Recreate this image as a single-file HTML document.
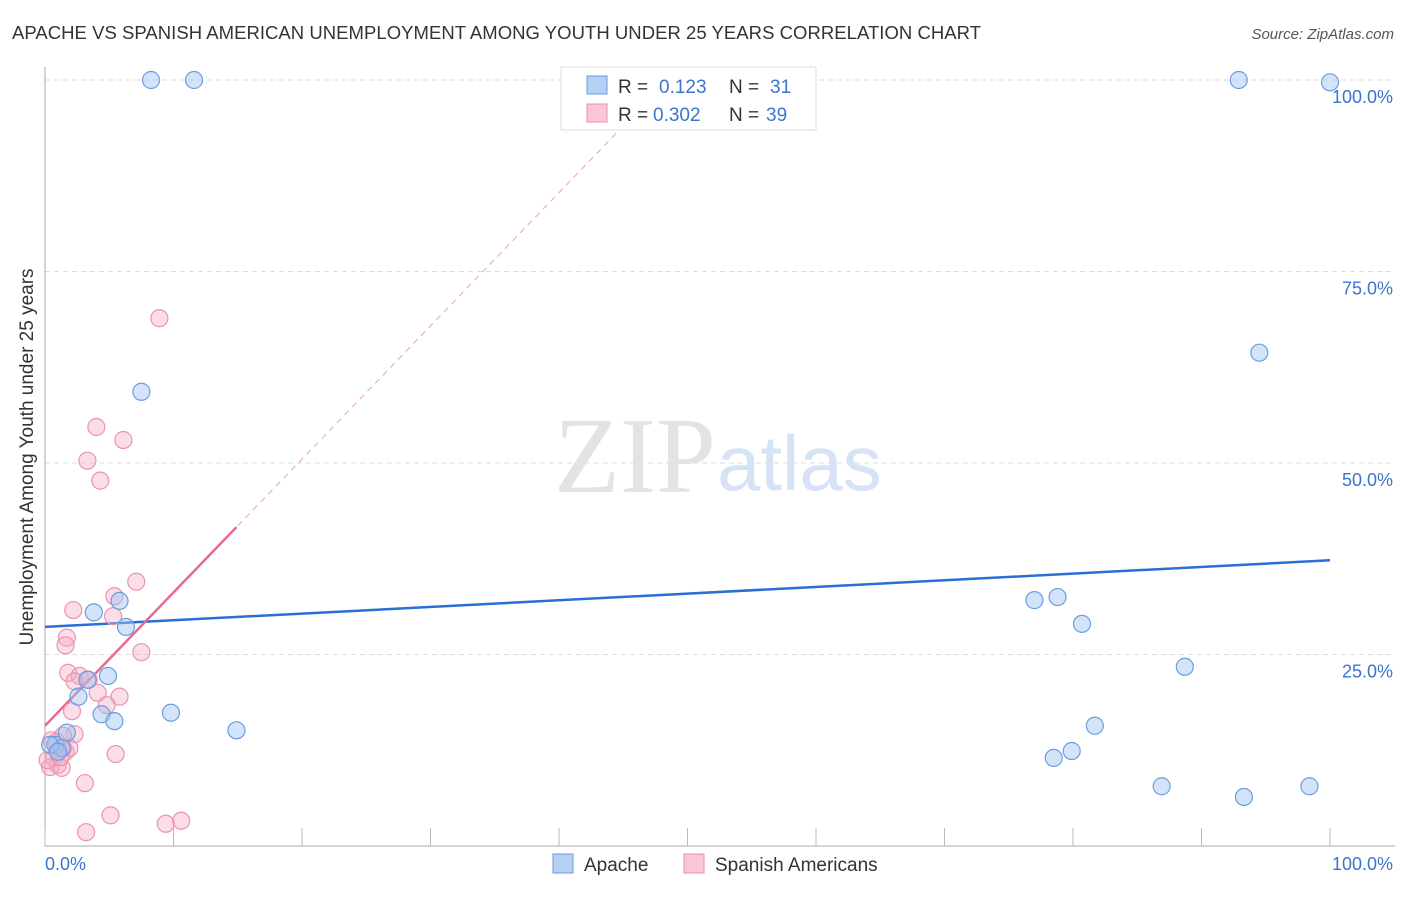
<!DOCTYPE html>
<html><head><meta charset="utf-8"><style>
body{margin:0;background:#fff;font-family:"Liberation Sans",sans-serif}
svg text{font-family:"Liberation Sans",sans-serif}
</style></head><body>
<svg width="1406" height="892">
<text x="12" y="39" font-size="18.5" fill="#333" textLength="969">APACHE VS SPANISH AMERICAN UNEMPLOYMENT AMONG YOUTH UNDER 25 YEARS CORRELATION CHART</text>
<text x="1394" y="39" font-size="15" fill="#555" font-style="italic" text-anchor="end">Source: ZipAtlas.com</text>
<g id="grid"></g>
<text x="716" y="492" font-size="108" fill="#e3e3e3" text-anchor="end" font-family="Liberation Serif" style="font-family:'Liberation Serif',serif">ZIP</text>
<text x="717" y="490" font-size="78" fill="#d5e3f5">atlas</text>
<g id="axes"></g>
<g id="lines"></g>
<g id="pts"></g>
<text x="33" y="457" font-size="19" fill="#333" text-anchor="middle" transform="rotate(-90 33 457)">Unemployment Among Youth under 25 years</text>
<g>
<rect x="561" y="67" width="255" height="63" fill="#fff" stroke="#ddd"/>
<rect x="587" y="76" width="20" height="18" fill="#b4d0f5" stroke="#6a9de0"/>
<text x="618" y="93" font-size="19" fill="#333">R =</text><text x="659" y="93" font-size="19" fill="#3b74d0">0.123</text>
<text x="729" y="93" font-size="19" fill="#333">N =</text><text x="770" y="93" font-size="19" fill="#3b74d0">31</text>
<rect x="587" y="104" width="20" height="18" fill="#f8c6d6" stroke="#e890ab"/>
<text x="618" y="121" font-size="19" fill="#333">R =</text><text x="653" y="121" font-size="19" fill="#3b74d0">0.302</text>
<text x="729" y="121" font-size="19" fill="#333">N =</text><text x="766" y="121" font-size="19" fill="#3b74d0">39</text>
</g>
<g>
<rect x="553" y="854" width="20" height="19" fill="#b4d0f5" stroke="#6a9de0"/>
<text x="584" y="871" font-size="19" fill="#333">Apache</text>
<rect x="684" y="854" width="20" height="19" fill="#f8c6d6" stroke="#e890ab"/>
<text x="715" y="871" font-size="19" fill="#333">Spanish Americans</text>
</g>
</svg>
<script>
const yTicks=[25,50,75,100];
const yTickLabels=["25.0%","50.0%","75.0%","100.0%"];
const xLabels=["0.0%","100.0%"];
const apacheX=[8.25,11.6,92.9,100,94.5,7.5,3.8,5.8,6.3,77.0,78.8,80.7,88.7,4.9,3.3,2.6,4.4,5.4,9.8,14.9,81.7,78.5,79.9,86.9,93.3,98.4,1.7,0.8,1.3,0.4,1.0];
const apacheY=[100,100,100,99.7,64.4,59.3,30.5,32.0,28.6,32.1,32.5,29.0,23.4,22.2,21.7,19.5,17.2,16.3,17.4,15.1,15.7,11.5,12.4,7.8,6.4,7.8,14.8,13.2,12.8,13.2,12.3];
const spanX=[8.9,4.0,6.1,3.3,4.3,7.1,5.4,2.2,5.3,7.5,1.7,1.6,1.8,2.7,2.3,3.4,4.1,5.8,4.8,2.1,2.3,1.4,0.5,1.6,0.7,1.0,0.4,1.3,5.5,3.1,5.1,3.2,9.4,10.6,1.4,0.9,0.2,1.9,1.2];
const spanY=[68.9,54.7,53.0,50.3,47.7,34.5,32.6,30.8,30.0,25.3,27.2,26.2,22.6,22.2,21.5,21.7,20.0,19.5,18.4,17.6,14.6,14.4,13.8,12.3,11.5,10.6,10.3,10.2,12.0,8.2,4.0,1.8,2.9,3.3,12.8,13.6,11.2,12.8,11.6];
const apacheFit=[28.6,37.3];
const spanFit=[15.7,1.74];
const NS="http://www.w3.org/2000/svg";
const X=v=>45+v*12.85, Y=v=>846-v*7.66;
function mk(t,a,p){const e=document.createElementNS(NS,t);for(const k in a)e.setAttribute(k,a[k]);document.getElementById(p).appendChild(e);return e;}
yTicks.forEach((t,i)=>{
 let l=mk('line',{x1:45,x2:1395,y1:Y(t),y2:Y(t),stroke:'#ddd','stroke-dasharray':'5,4'},'grid');
 
 
 let tx=mk('text',{x:1393,y:Y(t)+23,'font-size':18,fill:'#3b74d0','text-anchor':'end'},'axes');tx.textContent=yTickLabels[i];
 
 
});
let ax=mk('path',{d:'M45 67V846H1395',stroke:'#aaa',fill:'none'},'axes');


for(let i=0;i<=10;i++){let t=mk('line',{x1:X(i*10),x2:X(i*10),y1:828,y2:846,stroke:'#bbb'},'axes');
 
 }
let xl0=mk('text',{x:45,y:870,'font-size':18,fill:'#3b74d0'},'axes');xl0.textContent=xLabels[0];


let xl1=mk('text',{x:1393,y:870,'font-size':18,fill:'#3b74d0','text-anchor':'end'},'axes');xl1.textContent=xLabels[1];


let bl=mk('line',{x1:X(0),y1:Y(apacheFit[0]),x2:X(100),y2:Y(apacheFit[1]),stroke:'#2a6fd6','stroke-width':2.5},'lines');


let pd=mk('line',{x1:X(15),y1:Y(spanFit[0]+spanFit[1]*15),x2:X(45),y2:Y(spanFit[0]+spanFit[1]*45),stroke:'#e8a0b8','stroke-width':1,'stroke-dasharray':'6,5'},'lines');


let pl=mk('line',{x1:X(0),y1:Y(spanFit[0]),x2:X(14.9),y2:Y(spanFit[0]+spanFit[1]*14.9),stroke:'#e86a92','stroke-width':2.5},'lines');


spanX.forEach((v,i)=>{let c=mk('circle',{cx:X(v),cy:Y(spanY[i]),r:8.5,fill:'rgba(246,170,195,0.4)',stroke:'#eb93b0','stroke-width':1.2},'pts');
 
 });
apacheX.forEach((v,i)=>{let c=mk('circle',{cx:X(v),cy:Y(apacheY[i]),r:8.5,fill:'rgba(160,196,240,0.45)',stroke:'#6a9de0','stroke-width':1.2},'pts');
 
 });
</script>
</body></html>
